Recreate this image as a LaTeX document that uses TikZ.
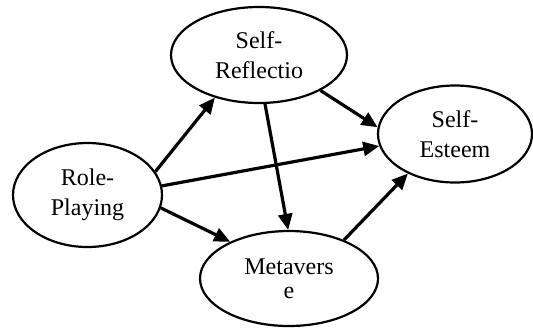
\documentclass[tikz,border=0pt]{standalone}
\usepackage{fontspec}
\setmainfont{Liberation Serif}
\usetikzlibrary{arrows.meta, shapes.geometric}

\begin{document}
\begin{tikzpicture}[x=0.5pt, y=-0.5pt,
    construct/.style={ellipse, draw, line width=1.1pt, inner sep=0pt, align=center,
        font=\fontsize{12}{15}\selectfont},
    effect/.style={-{Triangle[length=8pt,width=7pt]}, line width=1.6pt}]
    \useasboundingbox (0,0) rectangle (533,327);
    \node[construct, minimum width=88pt, minimum height=48pt] (refl) at (259,55) {Self-\\Reflectio};
    \node[construct, minimum width=77pt, minimum height=48.5pt] (esteem) at (455,134) {Self-\\Esteem};
    \node[construct, minimum width=74.5pt, minimum height=52pt] (role) at (87.5,195) {Role-\\Playing};
    \node[construct, minimum width=89pt, minimum height=47.5pt, font=\fontsize{12}{12}\selectfont] (meta) at (289,278.5) {Metavers\\e};
    \draw[effect] (role.19) -- (refl.-136);
    \draw[effect] (refl.-30) -- (esteem.175);
    \draw[effect] (role.7) -- (esteem.189);
    \draw[effect] (refl.-83) -- (meta.91);
    \draw[effect] (role.-10) -- (meta.148);
    \draw[effect] (meta.35) -- (esteem.220);
\end{tikzpicture}
\end{document}
